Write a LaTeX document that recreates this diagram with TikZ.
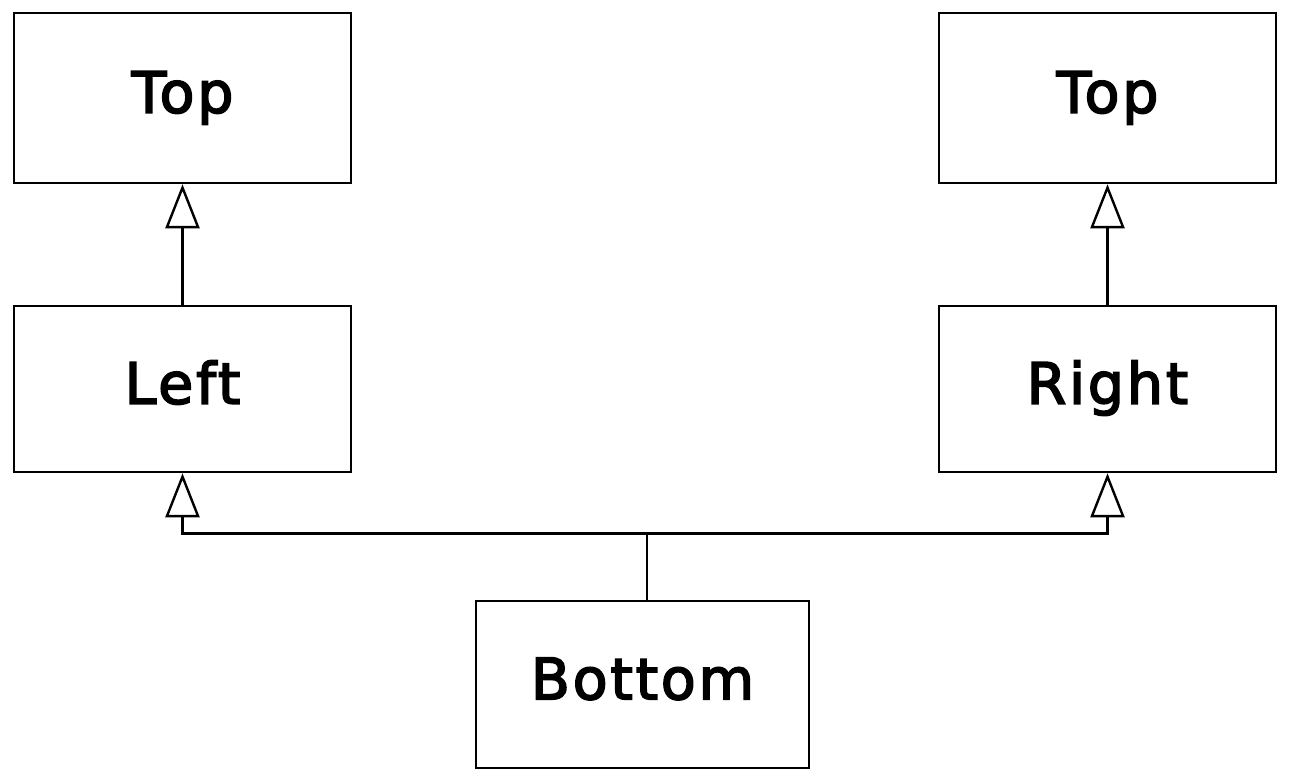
\documentclass[tikz,border=0pt]{standalone}
\usepackage{fontspec}
\setmainfont{DejaVu Sans}
\newfontfamily\boxfont[LetterSpace=5, FakeBold=3]{DejaVu Sans}
\usetikzlibrary{arrows.meta}
\begin{document}
\begin{tikzpicture}[x=1pt,y=-1pt,
  cls/.style={draw=black, line width=2.6pt, fill=white, inner sep=0pt,
    font=\boxfont\fontsize{57}{62}\selectfont, text=black,
    text height=41.5pt, text depth=12pt},
  inh/.style={line width=2.6pt, -{Triangle[open, width=34pt, length=44pt, line width=2.4pt]}}]
\useasboundingbox[fill=white] (0,0) rectangle (1290,783);
\node[cls, minimum width=337pt, minimum height=170pt] (TopL) at (182.5,98) {Top};
\node[cls, minimum width=337pt, minimum height=170pt] (TopR) at (1107.5,98) {Top};
\node[cls, minimum width=337pt, minimum height=166pt] (Left) at (182.5,389) {Left};
\node[cls, minimum width=337pt, minimum height=166pt] (Right) at (1107.5,389) {Right};
\node[cls, minimum width=333pt, minimum height=167pt] (Bottom) at (642.5,684.5) {Bottom};
\draw[inh] (Left.north) -- (TopL.south);
\draw[inh] (Right.north) -- (TopR.south);
\coordinate (J) at ([xshift=4.5pt,yshift=66pt]Bottom.north);
\draw[inh] ([xshift=4.5pt]Bottom.north) -- (J) -| (Left.south);
\draw[inh] (J) -| (Right.south);
\end{tikzpicture}
\end{document}
